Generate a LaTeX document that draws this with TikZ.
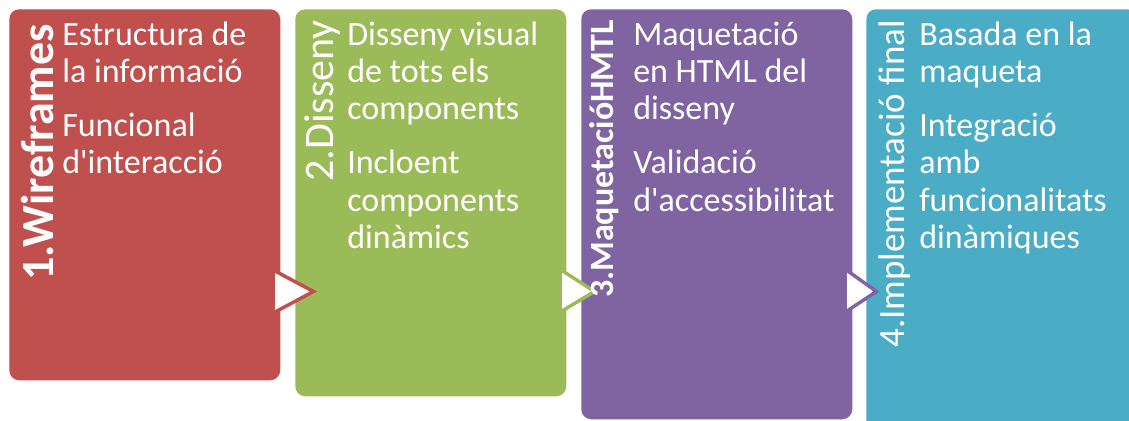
\documentclass[tikz,border=0pt]{standalone}
\usepackage{fontspec}
\setmainfont{Carlito}
\usetikzlibrary{positioning}
\definecolor{wirered}{HTML}{C0504D}
\definecolor{disgreen}{HTML}{9BBB59}
\definecolor{maqpurple}{HTML}{8064A2}
\definecolor{impteal}{HTML}{4BACC6}
\tikzset{
	stagebox/.style={fill=#1, rounded corners=7.5pt, anchor=north west, inner sep=0pt, minimum width=203.25pt},
	stagetitle/.style={text=white, rotate=90, anchor=base east, inner sep=0pt},
	stageitems/.style={text=white, align=left, anchor=north west, inner sep=0pt, font=\fontsize{25.5}{28}\selectfont},
	chevron/.style={draw=#1, fill=white, line width=2.6pt, line join=miter}
}
\begin{document}
\begin{tikzpicture}[x=0.75pt,y=-0.75pt]
\useasboundingbox (0,0) rectangle (1129,421);
\clip (0,0) rectangle (1129,421);
	\node[stagebox=wirered, minimum height=278.25pt] (wire) at (9,9) {};
	\node[stagebox=disgreen, minimum height=290.25pt] (dis) at (295,9) {};
	\draw[chevron=wirered] (275,271) -- (313.5,291.5) -- (275,312);
	\node[stagebox=maqpurple, minimum height=307.5pt] (maq) at (581,9) {};
	\draw[chevron=disgreen] (562,270.5) -- (594.5,291.5) -- (562,311);
	\node[stagebox=impteal, minimum height=322.5pt] (impl) at (866,9) {};
	\draw[chevron=maqpurple] (847,270.5) -- (876.5,291.5) -- (847,311);
%titles
	\node[stagetitle, font=\fontsize{34.5}{40}\selectfont\bfseries] (wiretitle) at (53,24) {1.Wireframes};
	\node[stagetitle, font=\fontsize{31.5}{36}\selectfont] (distitle) at (333,20) {2.Disseny};
	\node[stagetitle, font=\fontsize{25.5}{30}\selectfont\bfseries] (maqtitle) at (613,20) {3.MaquetacióHMTL};
	\node[stagetitle, font=\fontsize{27.75}{32}\selectfont] (impltitle) at (904,20) {4.Implementació final};
%items
	\node[stageitems] (wireitems) at (62,18.9) {\strut Estructura de\\la informació\\[12.5pt]Funcional\\d\textquotesingle interacció};
	\node[stageitems] (disitems) at (347,18.9) {\strut Disseny visual\\de tots els\\components\\[12.5pt]Incloent\\components\\dinàmics};
	\node[stageitems] (maqitems) at (633,18.9) {\strut Maquetació\\en HTML del\\disseny\\[12.5pt]Validació\\d\textquotesingle accessibilitat};
	\node[stageitems] (implitems) at (919,18.9) {\strut Basada en la\\maqueta\\[12.5pt]Integració\\amb\\funcionalitats\\dinàmiques};
\end{tikzpicture}
\end{document}
